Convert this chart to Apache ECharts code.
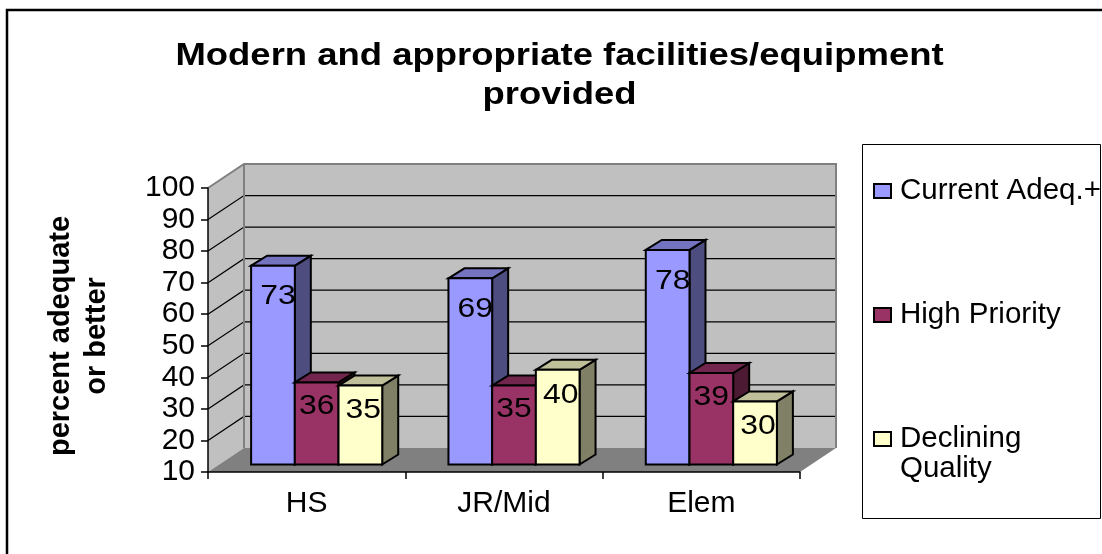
<!DOCTYPE html>
<html>
<head>
<meta charset="utf-8">
<title>Modern and appropriate facilities/equipment provided</title>
<style>
html,body{margin:0;padding:0;background:#fff;overflow:hidden;}
#main{width:1102px;height:554px;}
</style>
<script src="https://cdn.jsdelivr.net/npm/echarts@6/dist/echarts.min.js"></script>
</head>
<body>
<div id="main"></div>
<script>
var categories = ['HS', 'JR/Mid', 'Elem'];
var currentAdeq = [73, 69, 78];
var highPriority = [36, 35, 39];
var decliningQuality = [35, 40, 30];
var yTicks = [20, 30, 40, 50, 60, 70, 80, 90];

var fontName = '"Liberation Sans", Arial, sans-serif';

//the source picture was stretched sideways
var stretch = 1.14;

//depth of the floor and of each bar, in pixels
var wallDx = 36, wallDy = -24;
var barDx = 16, barDy = -10;
var barWidth = 43.7;

//one side of a polygon
function poly(points, fill, line, lineWidth){
	return {
		type: 'polygon',
		shape: {points: points},
		style: {fill: fill, stroke: line, lineWidth: lineWidth}
	};
}

//walls, floor and gridlines behind the bars
function renderWalls(params, api){
	var sys = params.coordSys;
	var x0 = sys.x, x1 = sys.x + sys.width;
	var top = sys.y, bot = sys.y + sys.height;
	var kids = [];
	kids.push(poly([[x0, bot], [x0, top], [x0 + wallDx, top + wallDy], [x0 + wallDx, bot + wallDy]], '#c0c0c0', null, 0));
	kids.push(poly([[x0 + wallDx, top + wallDy], [x1 + wallDx, top + wallDy], [x1 + wallDx, bot + wallDy], [x0 + wallDx, bot + wallDy]], '#c0c0c0', null, 0));
	kids.push(poly([[x0, bot], [x0 + wallDx, bot + wallDy], [x1 + wallDx, bot + wallDy], [x1, bot]], '#808080', null, 0));
	for(var i = 0; i < yTicks.length; i++){
		var y = api.coord([0, yTicks[i]])[1];
		kids.push({
			type: 'polyline',
			shape: {points: [[x0, y], [x0 + wallDx, y + wallDy], [x1 + wallDx, y + wallDy]]},
			style: {fill: null, stroke: '#000', lineWidth: 1.2}
		});
	}
	kids.push({
		type: 'polyline',
		shape: {points: [[x0, top], [x0 + wallDx, top + wallDy], [x1 + wallDx, top + wallDy], [x1 + wallDx, bot + wallDy]]},
		style: {fill: null, stroke: '#808080', lineWidth: 2}
	});
	kids.push({
		type: 'line',
		shape: {x1: x0 + wallDx, y1: top + wallDy, x2: x0 + wallDx, y2: bot + wallDy},
		style: {stroke: '#808080', lineWidth: 2}
	});
	return {type: 'group', children: kids};
}

//builds the three visible faces of one bar
function barRenderer(index, face, topFace, sideFace, labelDx, labelDy){
	return function(params, api){
		var cat = api.value(0);
		var val = api.value(1);
		var p = api.coord([cat, val]);
		var base = api.coord([cat, 10]);
		var left = p[0] + 10 + (index - 1.5) * barWidth;
		var right = left + barWidth;
		var top = p[1] - 7.5;
		var bot = base[1] - 7.5;
		return {
			type: 'group',
			children: [
				poly([[right, bot], [right + barDx, bot + barDy], [right + barDx, top + barDy], [right, top]], sideFace, '#000', 2),
				poly([[left, top], [left + barDx, top + barDy], [right + barDx, top + barDy], [right, top]], topFace, '#000', 2),
				poly([[left, top], [right, top], [right, bot], [left, bot]], face, '#000', 2),
				{
					type: 'text',
					x: (left + right) / 2 + labelDx,
					y: top + labelDy,
					scaleX: stretch,
					style: {
						x: 0,
						y: 0,
						text: String(val),
						fill: '#000',
						font: '28px ' + fontName,
						align: 'center',
						verticalAlign: 'middle'
					}
				}
			]
		};
	};
}

function barData(values){
	var out = [];
	for(var i = 0; i < values.length; i++){
		out.push([i, values[i]]);
	}
	return out;
}

var myChart = echarts.init(document.getElementById('main'));

var option = {
	animation: false,
	backgroundColor: '#fff',
	grid: {left: 208, top: 188, width: 592, height: 284},
	xAxis: {
		type: 'category',
		data: categories,
		z: 10,
		axisLine: {lineStyle: {color: '#000', width: 1.5}},
		axisTick: {show: true, length: 7, lineStyle: {color: '#000', width: 1.5}},
		axisLabel: {fontFamily: fontName, fontSize: 30, color: '#000', margin: 17}
	},
	yAxis: {
		type: 'value',
		min: 10,
		max: 100,
		interval: 10,
		z: 10,
		name: 'percent adequate\nor better',
		nameLocation: 'middle',
		nameRotate: 90,
		nameGap: 93,
		nameTextStyle: {fontFamily: fontName, fontWeight: 'bold', fontSize: 29, lineHeight: 36, color: '#000', padding: [0, 12, 0, 0]},
		axisLine: {show: true, lineStyle: {color: '#000', width: 1.5}},
		axisTick: {show: true, length: 7, lineStyle: {color: '#000', width: 1.5}},
		axisLabel: {fontFamily: fontName, fontSize: 30, color: '#000', margin: 13},
		splitLine: {show: false}
	},
	legend: {
		orient: 'vertical',
		left: 873,
		top: 176,
		padding: 0,
		itemWidth: 17,
		itemHeight: 14,
		itemGap: 94,
		icon: 'rect',
		itemStyle: {borderColor: '#000', borderWidth: 2},
		data: ['Current Adeq.+', 'High Priority', 'Declining Quality'],
		formatter: function(name){
			return name == 'Declining Quality' ? 'Declining' : name;
		},
		textStyle: {fontFamily: fontName, fontSize: 29.5, color: '#000', lineHeight: 30, padding: [0, 0, 0, 4]}
	},
	graphic: [
		{
			type: 'polyline',
			shape: {points: [[7, 554], [7, 10], [1102, 10]]},
			style: {fill: null, stroke: '#000', lineWidth: 2.5},
			z: 0
		},
		{
			type: 'rect',
			shape: {x: 862.5, y: 144.5, width: 238, height: 374},
			style: {fill: '#fff', stroke: '#000', lineWidth: 1},
			z: 0
		},
		{
			type: 'text',
			x: 559.5,
			y: 76,
			scaleX: stretch,
			style: {
				x: 0,
				y: 0,
				text: 'Modern and appropriate facilities/equipment\nprovided',
				fill: '#000',
				font: 'bold 32px ' + fontName,
				lineHeight: 39,
				align: 'center',
				verticalAlign: 'middle'
			},
			z: 5
		},
		{
			type: 'text',
			left: 900,
			top: 454,
			style: {text: 'Quality', fill: '#000', font: '29.5px ' + fontName},
			z: 5
		}
	],
	series: [
		{type: 'custom', name: 'walls', renderItem: renderWalls, data: [[0, 10]], z: 1, silent: true},
		{type: 'custom', name: 'Current Adeq.+', data: barData(currentAdeq), itemStyle: {color: '#9999ff'}, z: 2,
			renderItem: barRenderer(0, '#9999ff', '#7373bf', '#4d4d80', 5, 31)},
		{type: 'custom', name: 'High Priority', data: barData(highPriority), itemStyle: {color: '#993366'}, z: 3,
			renderItem: barRenderer(1, '#993366', '#73264d', '#4d1a33', 0, 24)},
		{type: 'custom', name: 'Declining Quality', data: barData(decliningQuality), itemStyle: {color: '#ffffcc'}, z: 4,
			renderItem: barRenderer(2, '#ffffcc', '#bfbf99', '#808066', 3, 25)}
	]
};
myChart.setOption(option);
</script>
</body>
</html>
